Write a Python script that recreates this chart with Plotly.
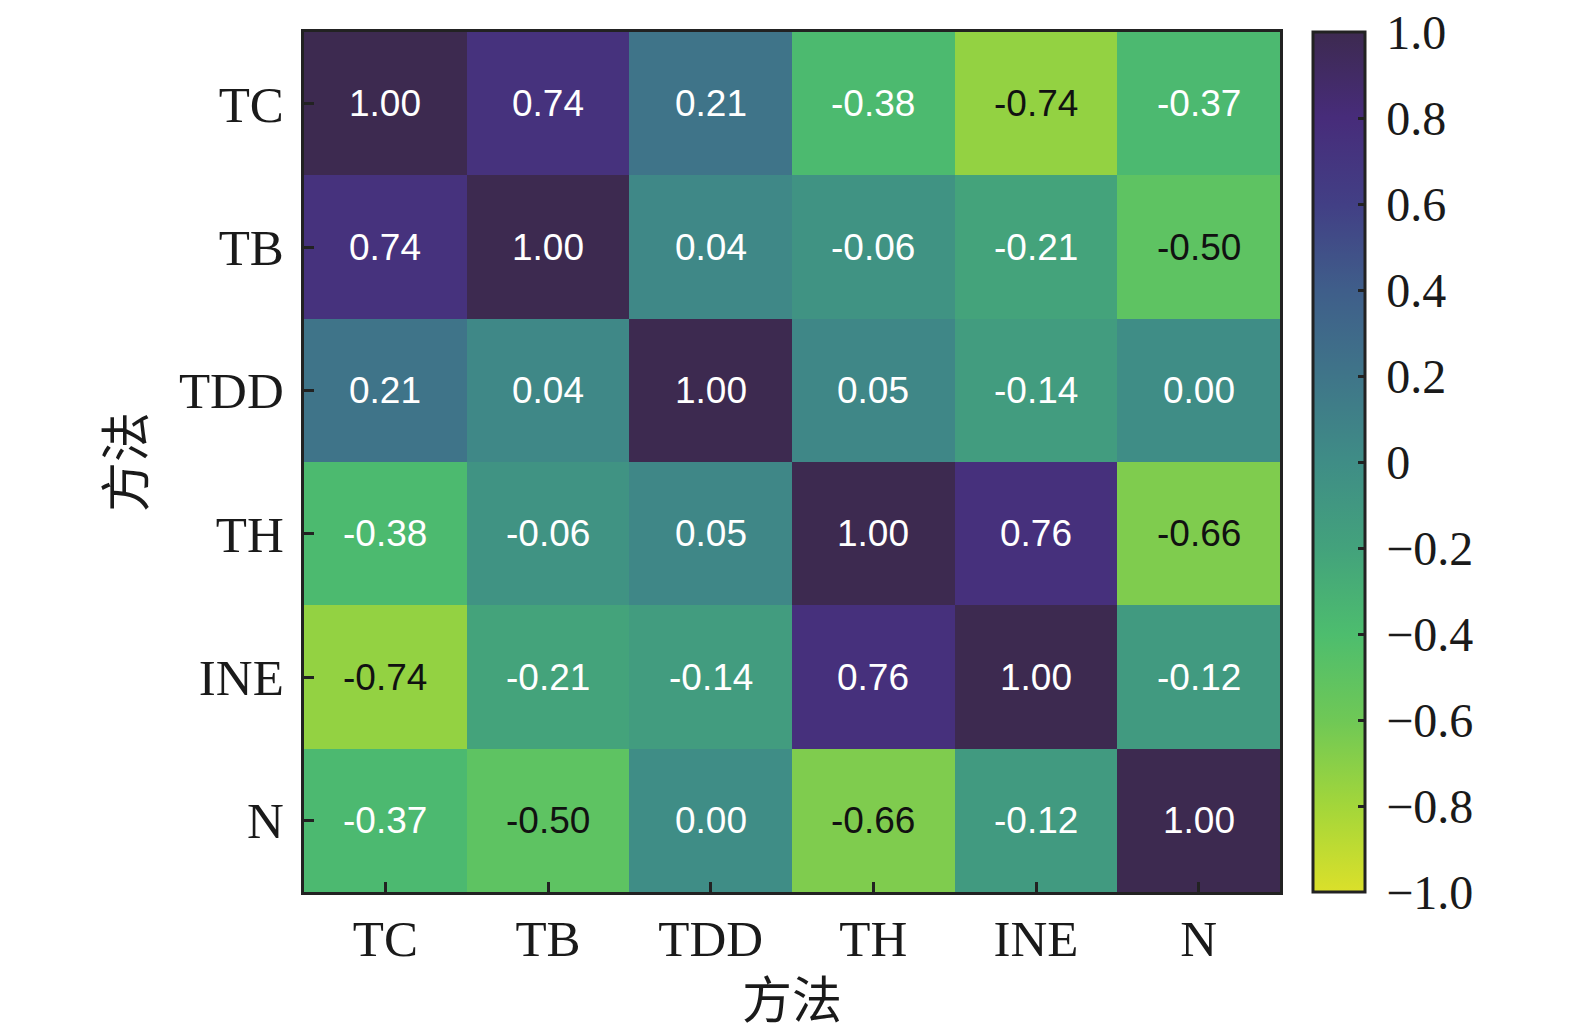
import plotly.graph_objects as go

methods = ['TC', 'TB', 'TDD', 'TH', 'INE', 'N']

# correlation matrix, rows top to bottom
corr = [
    [1.00, 0.74, 0.21, -0.38, -0.74, -0.37],
    [0.74, 1.00, 0.04, -0.06, -0.21, -0.50],
    [0.21, 0.04, 1.00, 0.05, -0.14, 0.00],
    [-0.38, -0.06, 0.05, 1.00, 0.76, -0.66],
    [-0.74, -0.21, -0.14, 0.76, 1.00, -0.12],
    [-0.37, -0.50, 0.00, -0.66, -0.12, 1.00],
]

cbar_vals = [1.0, 0.8, 0.6, 0.4, 0.2, 0, -0.2, -0.4, -0.6, -0.8, -1.0]
cbar_text = ['1.0', '0.8', '0.6', '0.4', '0.2', '0', '−0.2', '−0.4', '−0.6', '−0.8', '−1.0']

# viridis-like, reversed, darker top end
scale = [
    [0.0, '#dbe02a'],
    [0.1, '#a3d63a'],
    [0.2, '#6fc856'],
    [0.3, '#4dbd6e'],
    [0.4, '#43a27c'],
    [0.5, '#3f8d86'],
    [0.6, '#3f7589'],
    [0.7, '#3f5e8a'],
    [0.8, '#423f85'],
    [0.9, '#472c7a'],
    [1.0, '#3d2a50'],
]

serif = 'Liberation Serif, Times New Roman, serif'
cjk = 'Liberation Serif, Noto Sans CJK SC, serif'
line_col = '#222222'

fig = go.Figure()
fig.add_trace(go.Heatmap(
    z=corr, x=methods, y=methods,
    zmin=-1, zmax=1, colorscale=scale,
    xgap=0, ygap=0,
    colorbar=dict(
        x=1.034, xanchor='left', xpad=0,
        y=0.5, yanchor='middle', len=1.0, lenmode='fraction', ypad=0,
        thickness=52, thicknessmode='pixels',
        outlinewidth=3, outlinecolor=line_col,
        tickvals=cbar_vals, ticktext=['\u2009' + t for t in cbar_text],
        ticks='inside', ticklen=8, tickwidth=3, tickcolor=line_col,
        ticklabeloverflow='allow',
        tickfont=dict(family=serif, size=48, color='#1a1a1a'),
    ),
    hoverinfo='skip',
))

# cell labels
for i, row in enumerate(corr):
    for j, v in enumerate(row):
        fig.add_annotation(
            x=methods[j], y=methods[i], text=f'{v:.2f}', showarrow=False,
            font=dict(family='Liberation Sans, Arial, sans-serif', size=37,
                      color='#111111' if v < -0.45 else '#ffffff'),
        )

fig.update_xaxes(
    showline=True, linewidth=3, linecolor=line_col, mirror=True,
    ticks='inside', ticklen=10, tickwidth=3, tickcolor=line_col,
    tickfont=dict(family=serif, size=51, color='#1a1a1a'),
    ticklabelstandoff=0,
    title=dict(text='方法', font=dict(family=cjk, size=50, color='#1a1a1a'), standoff=17),
    showgrid=False, zeroline=False,
)
fig.update_yaxes(
    autorange='reversed',
    showline=True, linewidth=3, linecolor=line_col, mirror=True,
    ticks='inside', ticklen=10, tickwidth=3, tickcolor=line_col,
    tickfont=dict(family=serif, size=51, color='#1a1a1a'),
    ticklabelstandoff=7,
    title=dict(text='方法', font=dict(family=cjk, size=50, color='#1a1a1a'), standoff=19),
    showgrid=False, zeroline=False,
)

fig.update_layout(
    width=1575, height=1032,
    margin=dict(l=296, r=303, t=24, b=148),
    paper_bgcolor='white', plot_bgcolor='white',
)

fig.write_html('out.html')
